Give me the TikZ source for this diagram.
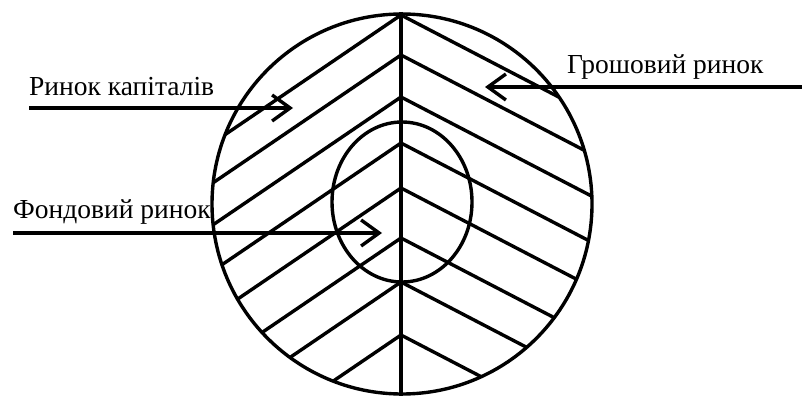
\documentclass[tikz,border=0pt]{standalone}
\usepackage{fontspec}
\setmainfont{Liberation Serif}
\usetikzlibrary{arrows.meta}

\begin{document}
\begin{tikzpicture}[
    x=1pt, y=-1pt,
    txt/.style={inner sep=0pt, font=\fontsize{27.5}{32}\selectfont},
    line/.style={line width=3.4pt},
    hatch/.style={line width=3.4pt},
    arrow/.style={line width=3.4pt, -{Straight Barb[length=18pt,width=26pt]}}
]
    \useasboundingbox (0,0) rectangle (802,396);

    % circles and axis
    \coordinate (ctr) at (402,204);
    \coordinate (vtop) at (401,12);
    \coordinate (vbot) at (401,396);
    \begin{scope}
        \clip (ctr) circle (190pt);
        \foreach \a in {15,55,97,143,188,238,282,335} {
            \draw [hatch] (401,\a) -- ++(-300,204);
            \draw [hatch] (401,\a) -- ++(300,156);
        }
    \end{scope}
    \draw [line] (ctr) circle (190pt);
    \draw [line] (402,202) ellipse (70pt and 80pt);
    \draw [line] (vtop) -- (vbot);

    % labels with arrows
    \coordinate (kapstart) at (29,108);
    \coordinate (kaptip) at (293,108);
    \node (kap) [txt, anchor=base west] at ([yshift=13pt]kapstart) {Ринок капіталів};
    \draw [arrow] (kapstart) -- (kaptip);

    \coordinate (groshstart) at (802,87);
    \coordinate (groshtip) at (485,87);
    \node (grosh) [txt, anchor=base west] at (567,73) {Грошовий ринок};
    \draw [arrow] (groshstart) -- (groshtip);

    \coordinate (fondstart) at (13,233);
    \coordinate (fondtip) at (382,233);
    \node (fond) [txt, anchor=base west] at ([yshift=15pt]fondstart) {Фондовий ринок};
    \draw [arrow] (fondstart) -- (fondtip);
\end{tikzpicture}
\end{document}
